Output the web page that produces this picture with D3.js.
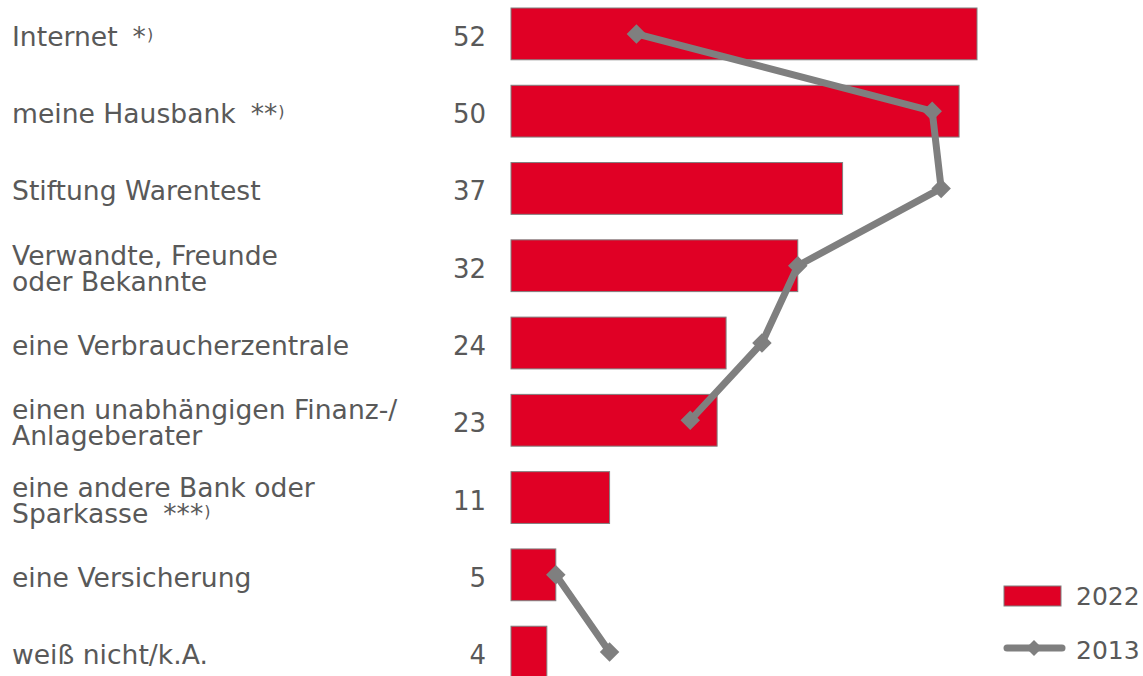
<!DOCTYPE html>
<html>
<head>
<meta charset="utf-8">
<script src="https://cdn.jsdelivr.net/npm/d3@7"></script>
<style>
  body { margin: 0; background: #fff; }
  text { font-family: "DejaVu Sans", Verdana, sans-serif; fill: #595959; }
</style>
</head>
<body>
<script>
// chart data
const categories = [
  ["Internet *)"],
  ["meine Hausbank **)"],
  ["Stiftung Warentest"],
  ["Verwandte, Freunde", "oder Bekannte"],
  ["eine Verbraucherzentrale"],
  ["einen unabhängigen Finanz-/", "Anlageberater"],
  ["eine andere Bank oder", "Sparkasse ***)"],
  ["eine Versicherung"],
  ["weiß nicht/k.A."]
];
const values2022 = [52, 50, 37, 32, 24, 23, 11, 5, 4];
const values2013 = [14, 47, 48, 32, 28, 20, null, 5, 11];
const seriesNames = ["2022", "2013"];

// layout
const width = 1143;
const height = 676;
const barColor = "#e00025";
const lineColor = "#7f7f7f";
const labelSize = 26.6;
const numberSize = 26;

const svg = d3.select("body").append("svg")
  .attr("width", width)
  .attr("height", height);

const x = d3.scaleLinear().domain([0, 52]).range([511, 977]);
const y = d3.scaleBand()
  .domain(d3.range(categories.length))
  .range([8, 678])
  .paddingInner(0.33)
  .paddingOuter(0);

const rows = categories.map(function(c, i) {
  return { label: c, v22: values2022[i], v13: values2013[i], i: i };
});

// bars
svg.selectAll(".bar")
  .data(rows)
  .enter()
  .append("rect")
  .attr("class", "bar")
  .attr("x", x(0))
  .attr("y", function(d) { return y(d.i); })
  .attr("width", function(d) { return x(d.v22) - x(0); })
  .attr("height", y.bandwidth())
  .attr("fill", barColor)
  .attr("stroke", "#7f7f7f")
  .attr("stroke-width", 1);

// writes one label line, footnote marks "*)" get a small raised bracket
function addLine(t, str, yy) {
  const m = str.match(/^(.*?)\s*(\*+)\)$/);
  if (!m) {
    t.append("tspan").attr("x", 12).attr("y", yy).text(str);
    return;
  }
  t.append("tspan").attr("x", 12).attr("y", yy).text(m[1]);
  t.append("tspan").attr("dx", 15).text(m[2]);
  t.append("tspan").attr("dx", 1).attr("dy", -6)
    .attr("font-size", 16).text(")");
}

const labels = svg.selectAll(".label")
  .data(rows)
  .enter()
  .append("text")
  .attr("class", "label")
  .attr("font-size", labelSize);

labels.each(function(d) {
  const t = d3.select(this);
  const cy = y(d.i) + y.bandwidth() / 2;
  if (d.label.length === 1) {
    addLine(t, d.label[0], cy + 12);
  } else {
    addLine(t, d.label[0], cy - 1);
    addLine(t, d.label[1], cy + 25);
  }
});

// value labels
svg.selectAll(".value")
  .data(rows)
  .enter()
  .append("text")
  .attr("class", "value")
  .attr("font-size", numberSize)
  .attr("text-anchor", "end")
  .attr("x", 486)
  .attr("y", function(d) { return y(d.i) + y.bandwidth() / 2 + 12; })
  .text(function(d) { return d.v22; });

// 2013 line
const line = d3.line()
  .defined(function(d) { return d.v13 != null; })
  .x(function(d) { return x(d.v13); })
  .y(function(d) { return y(d.i) + y.bandwidth() / 2; });

svg.append("path")
  .datum(rows)
  .attr("d", line)
  .attr("fill", "none")
  .attr("stroke", lineColor)
  .attr("stroke-width", 7)
  .attr("stroke-linejoin", "round");

const diamond = d3.symbol().type(d3.symbolSquare).size(190);

svg.selectAll(".marker")
  .data(rows.filter(function(d) { return d.v13 != null; }))
  .enter()
  .append("path")
  .attr("class", "marker")
  .attr("d", diamond)
  .attr("fill", lineColor)
  .attr("transform", function(d) {
    return "translate(" + x(d.v13) + "," + (y(d.i) + y.bandwidth() / 2) + ") rotate(45)";
  });

// legend
const legend = svg.append("g");
legend.append("rect")
  .attr("x", 1004).attr("y", 586)
  .attr("width", 57).attr("height", 20)
  .attr("fill", barColor)
  .attr("stroke", "#7f7f7f")
  .attr("stroke-width", 1);
legend.append("text")
  .attr("x", 1076).attr("y", 605)
  .attr("font-size", 25)
  .text(seriesNames[0]);

legend.append("line")
  .attr("x1", 1007).attr("x2", 1062)
  .attr("y1", 648).attr("y2", 648)
  .attr("stroke", lineColor)
  .attr("stroke-width", 7)
  .attr("stroke-linecap", "round");
legend.append("path")
  .attr("d", d3.symbol().type(d3.symbolSquare).size(130))
  .attr("fill", lineColor)
  .attr("transform", "translate(1034,648) rotate(45)");
legend.append("text")
  .attr("x", 1076).attr("y", 659)
  .attr("font-size", 25)
  .text(seriesNames[1]);
</script>
</body>
</html>
